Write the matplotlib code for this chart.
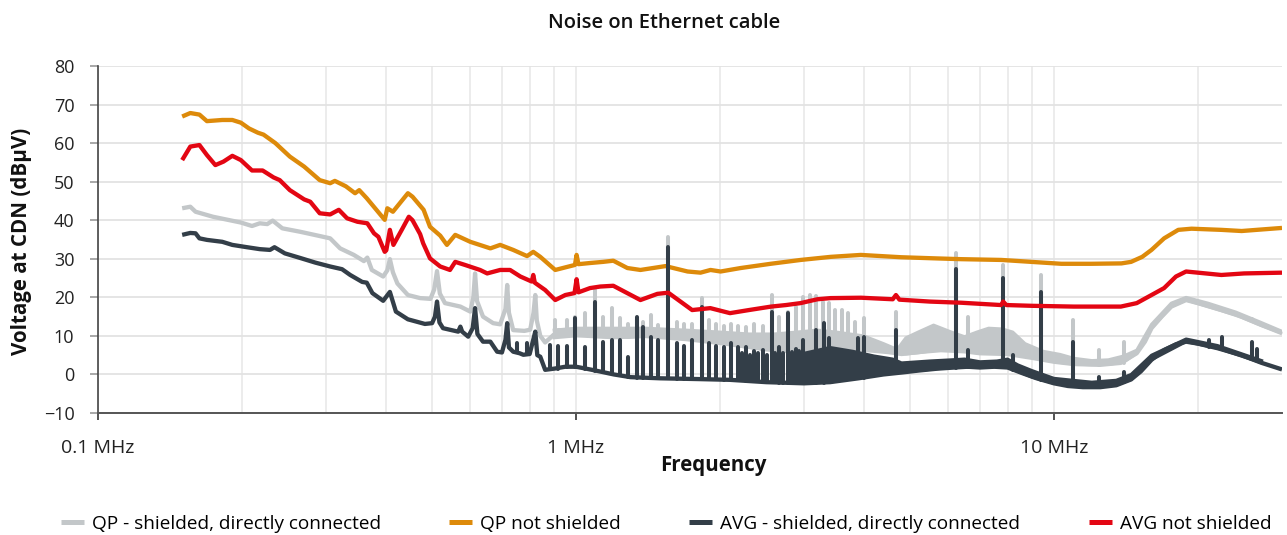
import numpy as np
import matplotlib.pyplot as plt
from matplotlib.lines import Line2D
from matplotlib.ticker import FixedLocator, NullFormatter

plt.rcParams['font.family'] = ['Open Sans', 'DejaVu Sans']

GRAY = '#c3c7c9'
ORANGE = '#dd8a0a'
DARK = '#333e48'
RED = '#e30613'

# --- QP - shielded, directly connected (frequency in MHz, level in dBuV) ---
qp_sh_f = [0.150, 0.156, 0.160, 0.174, 0.199, 0.210, 0.218, 0.226, 0.232, 0.243, 0.265, 0.291, 0.306, 0.321,
           0.343, 0.360, 0.366, 0.374, 0.395, 0.403, 0.408, 0.414, 0.423, 0.445, 0.472, 0.496, 0.505, 0.512,
           0.519, 0.532, 0.573, 0.601, 0.610, 0.615, 0.621, 0.639, 0.671, 0.694, 0.712, 0.718, 0.724, 0.739,
           0.780, 0.802, 0.815, 0.822, 0.828, 0.842, 0.862, 0.884, 0.920, 1.0, 1.1, 1.3, 1.45, 1.6, 1.85, 2.0,
           2.2, 2.5, 2.8, 3.0, 3.4, 3.9, 4.5, 4.8, 5.2, 5.8, 6.5, 7.0, 8.0, 9.0, 10.0, 11.0, 12.5, 13.8, 14.9,
           15.5, 16.0, 16.8, 17.6, 18.9, 20.0, 22.4, 24.7, 27.2, 30.0]
qp_sh_v = [43.1, 43.5, 42.2, 40.9, 39.4, 38.5, 39.2, 39.0, 39.9, 37.9, 37.0, 35.9, 35.3, 32.7,
           31.0, 29.4, 30.3, 27.1, 25.4, 27.0, 29.9, 26.5, 23.6, 20.6, 19.8, 19.6, 22.0, 26.8,
           21.0, 18.5, 17.6, 16.3, 20.0, 26.2, 19.0, 15.0, 13.3, 13.0, 17.0, 23.2, 16.0, 11.5,
           11.3, 11.6, 16.0, 20.6, 14.0, 10.0, 8.3, 9.5, 11.5, 11.0, 10.0, 9.8, 10.5, 10.5, 9.0, 8.5,
           7.5, 6.5, 6.0, 6.0, 6.5, 6.5, 5.8, 5.3, 5.8, 6.3, 6.0, 5.5, 5.3, 4.3, 3.3, 2.7, 2.5, 3.0, 5.5,
           8.5, 12.0, 15.0, 17.6, 19.3, 18.5, 16.7, 15.0, 12.8, 10.7]
# noise band (lower / upper envelope)
qp_sh_band_f = [0.9, 1.0, 1.2, 1.4, 1.7, 2.0, 2.3, 2.6, 2.9, 3.2, 3.5, 4.0, 4.4, 4.7, 4.9, 5.2, 5.6, 6.1, 6.5,
                6.9, 7.3, 7.8, 8.2, 8.7, 9.5, 10.3, 11.0, 12.0, 13.0, 14.0, 14.9, 16.0, 17.6, 18.9, 21.0,
                24.0, 27.0, 30.0]
qp_sh_band_lo = [9.5, 10.0, 9.5, 9.8, 9.0, 8.0, 7.0, 6.3, 6.0, 6.2, 6.5, 6.5, 6.0, 5.5, 5.3, 5.6, 6.2, 6.5, 6.0,
                 5.6, 5.5, 5.4, 5.3, 4.8, 3.9, 3.1, 2.7, 2.5, 2.6, 3.2, 5.5, 12.0, 17.6, 19.3, 17.6,
                 15.4, 12.8, 10.7]
qp_sh_band_hi = [11.5, 12.0, 12.0, 12.0, 11.5, 11.0, 10.5, 10.5, 11.0, 11.5, 11.0, 10.0, 8.0, 6.5, 9.5, 11.0,
                 12.8, 11.0, 9.8, 11.0, 12.0, 11.8, 11.0, 8.0, 6.0, 5.2, 4.2, 3.6, 3.8, 4.8, 6.3, 13.0, 18.5,
                 20.0, 18.5, 16.2, 13.6, 11.2]
# harmonic peaks
qp_sh_spk_f = [0.905, 0.959, 0.997, 1.046, 1.098, 1.141, 1.191, 1.238, 1.287, 1.344, 1.384, 1.438, 1.488,
               1.561, 1.623, 1.679, 1.753, 1.831, 1.894, 1.959, 2.036, 2.106, 2.178, 2.264, 2.353, 2.458,
               2.567, 2.656, 2.773, 2.882, 2.981, 3.09, 3.176, 3.28, 3.38, 3.49, 3.60, 3.71, 3.84, 4.00,
               4.671, 6.241, 6.612, 7.830, 9.406, 10.98, 12.45, 14.04, 21.06, 25.92]
qp_sh_spk_hi = [14.1, 14.0, 15.0, 16.0, 21.9, 15.0, 17.2, 14.6, 13.0, 14.1, 13.5, 15.3, 12.8,
                35.7, 13.7, 13.0, 13.0, 19.8, 14.1, 13.0, 12.5, 13.0, 12.5, 12.4, 13.0, 12.5,
                20.6, 15.0, 16.3, 17.6, 20.2, 20.6, 20.3, 18.9, 18.5, 16.8, 16.7, 15.9, 13.7, 14.6,
                16.3, 31.4, 15.0, 28.4, 25.8, 14.1, 6.3, 8.5, 18.0, 14.5]
qp_sh_spk_lo = [11, 11, 11, 10.5, 10, 10, 10, 9.8, 9.8, 10, 10.2, 10.5, 10.5,
                10.5, 10.5, 10, 9.5, 9, 8.8, 8.6, 8.5, 8, 7.6, 7.3, 7, 6.7,
                6.5, 6.2, 6, 6, 6, 6, 6.1, 6.2, 6.3, 6.4, 6.5, 6.5, 6.5, 6.5,
                5.5, 6.2, 6, 5.3, 4, 2.7, 2.5, 3, 17.8, 14.0]

# --- QP not shielded ---
qp_ns_f = [0.150, 0.156, 0.163, 0.169, 0.182, 0.191, 0.199, 0.207, 0.216, 0.222, 0.235, 0.252, 0.270, 0.291,
           0.306, 0.313, 0.330, 0.345, 0.352, 0.365, 0.398, 0.403, 0.414, 0.445, 0.455, 0.480, 0.495, 0.520,
           0.537, 0.559, 0.601, 0.662, 0.694, 0.739, 0.790, 0.814, 0.842, 0.905, 0.959, 0.995, 1.003, 1.012,
           1.07, 1.14, 1.197, 1.281, 1.364, 1.539, 1.712, 1.822, 1.912, 2.007, 2.211, 2.555, 2.953, 3.413,
           3.945, 4.345, 4.786, 5.666, 6.393, 7.753, 8.96, 10.36, 11.97, 13.84, 14.5, 15.3, 16.0, 17.0, 18.2,
           19.4, 22.4, 24.7, 27.2, 30.0]
qp_ns_v = [66.9, 67.8, 67.4, 65.7, 66.0, 66.0, 65.3, 63.8, 62.7, 62.2, 60.0, 56.5, 53.9, 50.4,
           49.6, 50.2, 48.8, 47.0, 47.8, 45.7, 40.1, 43.1, 42.2, 47.0, 46.1, 42.7, 38.3, 36.0,
           33.6, 36.2, 34.4, 32.7, 33.6, 32.3, 30.7, 31.8, 30.5, 27.1, 27.9, 28.4, 31.0, 28.6,
           28.9, 29.2, 29.5, 27.6, 27.1, 28.1, 26.7, 26.4, 27.1, 26.7, 27.6, 28.7, 29.7, 30.5,
           31.0, 30.7, 30.4, 30.1, 29.9, 29.7, 29.2, 28.7, 28.7, 28.8, 29.2, 30.5, 32.3, 35.3, 37.5,
           37.8, 37.5, 37.2, 37.6, 38.0]

# --- AVG - shielded, directly connected ---
avg_sh_f = [0.150, 0.156, 0.160, 0.163, 0.169, 0.182, 0.191, 0.205, 0.218, 0.229, 0.234, 0.246, 0.265, 0.285,
            0.306, 0.324, 0.337, 0.357, 0.365, 0.375, 0.395, 0.408, 0.420, 0.445, 0.483, 0.500, 0.507, 0.512,
            0.518, 0.527, 0.567, 0.573, 0.578, 0.595, 0.608, 0.615, 0.622, 0.639, 0.662, 0.684, 0.700, 0.712,
            0.718, 0.724, 0.739, 0.762, 0.776, 0.800, 0.814, 0.822, 0.830, 0.842, 0.862, 0.90, 0.95, 1.0,
            1.05, 1.1, 1.2, 1.3, 1.5, 1.8, 2.1, 2.5, 3.0, 3.4, 3.9, 4.4, 4.8, 5.2, 5.7, 6.2, 6.6, 7.0, 7.5,
            8.0, 8.6, 9.2, 10.0, 10.7, 11.5, 12.5, 13.5, 14.5, 15.2, 16.0, 17.0, 18.0, 18.9, 20.0, 22.0,
            24.7, 27.2, 30.0]
avg_sh_v = [36.2, 36.7, 36.6, 35.3, 34.9, 34.4, 33.6, 33.0, 32.5, 32.3, 33.0, 31.4, 30.2, 29.0,
            28.0, 27.3, 25.8, 24.0, 23.8, 21.1, 19.1, 21.4, 16.3, 14.3, 13.1, 13.3, 15.0, 18.9,
            13.5, 12.0, 11.1, 12.4, 11.1, 9.8, 12.0, 17.2, 10.5, 8.5, 8.5, 5.9, 5.7, 9.0,
            13.3, 7.0, 5.9, 5.5, 5.1, 5.3, 9.0, 11.1, 5.0, 4.6, 1.2, 1.5, 2.0, 2.0,
            1.5, 1.0, 0.0, -0.7, -1.0, -1.2, -1.4, -2.0, -2.3, -2.0, -1.0, 0.0, 0.5, 1.0, 1.5, 1.8, 2.0, 1.8, 2.0,
            1.8, 0.3, -1.0, -2.3, -3.0, -3.3, -3.3, -2.8, -1.3, 0.8, 3.8, 6.3, 7.8, 8.5, 8.0, 6.8,
            5.0, 3.0, 1.3]
avg_sh_band_f = [2.9, 3.0, 3.4, 3.8, 4.2, 4.6, 4.8, 5.5, 6.1, 6.5, 7.0, 7.6, 8.0, 8.4, 9.0, 10.0, 12.0,
                 13.5, 14.5, 16.0, 18.9, 22.0, 27.2]
avg_sh_band_lo = [-2.2, -2.3, -2.0, -1.0, 0.0, 0.5, 0.6, 1.3, 1.8, 2.0, 1.8, 2.0, 1.8, 0.8, -0.7, -2.3,
                  -3.3, -2.8, -1.3, 3.8, 8.5, 6.8, 3.0]
avg_sh_band_hi = [3.0, 5.5, 7.0, 6.0, 4.8, 4.0, 3.0, 3.5, 3.8, 4.0, 3.3, 3.5, 4.0, 2.5, 1.0, -1.0,
                  -2.0, -1.5, 0.0, 5.0, 9.2, 7.5, 3.6]
avg_sh_spk_f = [0.7535, 0.7907, 0.884, 0.918, 0.959, 0.997, 1.046, 1.098, 1.141, 1.191, 1.238, 1.287, 1.344,
                1.384, 1.438, 1.488, 1.561, 1.623, 1.679, 1.753, 1.831, 1.894, 1.959, 2.036, 2.106, 2.178,
                2.22, 2.264, 2.31, 2.353, 2.40, 2.458, 2.51, 2.567, 2.61, 2.656, 2.71, 2.773, 2.83, 2.882,
                2.93, 2.981, 3.176, 3.300, 3.380, 3.889, 4.003,
                4.671, 6.241, 6.612, 7.830, 8.217, 9.406, 10.98, 12.45, 14.04, 21.06, 22.42, 25.92, 26.56]
avg_sh_spk_hi = [8.1, 8.1, 7.7, 7.4, 7.5, 14.6, 7.0, 18.9, 8.5, 8.9, 8.9, 4.6, 15.0,
                 12.4, 9.8, 8.9, 33.0, 8.1, 7.5, 8.9, 17.6, 8.1, 7.5, 7.0, 8.1, 7.0,
                 5.5, 7.0, 5.0, 6.0, 5.5, 6.3, 5.0, 16.3, 5.5, 7.0, 5.5, 15.9, 5.8, 6.5,
                 6.0, 8.9, 11.5, 13.3, 9.4, 9.4, 9.7,
                 11.5, 27.3, 6.3, 24.9, 5.0, 21.5, 8.5, -0.6, 0.7, 8.9, 9.8, 8.5, 6.5]
avg_sh_spk_lo = [5.7, 5.2, 1.3, 1.5, 2.0, 2.0, 1.5, 1.0, 0.8, 0.3, -0.1, -0.6, -0.8,
                 -0.9, -1.0, -1.0, -1.0, -1.1, -1.1, -1.2, -1.2, -1.3, -1.3, -1.4, -1.4, -1.5,
                 -1.5, -1.6, -1.6, -1.7, -1.8, -1.9, -1.9, -2.0, -2.0, -2.1, -2.1, -2.2, -2.2, -2.2,
                 -2.3, -2.3, -2.2, -2.1, -2.0, -1.0, -0.8,
                 0.4, 1.8, 2.0, 1.9, 1.2, -1.5, -3.1, -3.3, -2.0, 7.2, 6.7, 4.0, 3.7]

# --- AVG not shielded ---
avg_ns_f = [0.150, 0.156, 0.163, 0.169, 0.176, 0.183, 0.191, 0.199, 0.210, 0.221, 0.233, 0.240, 0.252, 0.270,
            0.278, 0.291, 0.306, 0.319, 0.332, 0.349, 0.366, 0.378, 0.386, 0.398, 0.401, 0.408, 0.415, 0.432,
            0.447, 0.455, 0.472, 0.479, 0.495, 0.520, 0.545, 0.559, 0.586, 0.630, 0.652, 0.694, 0.728, 0.765,
            0.808, 0.814, 0.820, 0.862, 0.905, 0.950, 0.993, 1.003, 1.012, 1.07, 1.124, 1.197, 1.364, 1.48,
            1.56, 1.75, 1.91, 2.1, 2.3, 2.56, 2.75, 2.95, 3.2, 3.41, 3.95, 4.6, 4.671, 4.75, 5.5, 6.4, 7.04,
            7.75, 7.83, 7.95, 9.0, 11.0, 13.8, 14.9, 16.0, 17.0, 18.0, 18.9, 20.0, 22.4, 25.0, 30.0]
avg_ns_v = [55.6, 59.1, 59.5, 56.9, 54.3, 55.2, 56.7, 55.6, 52.9, 52.9, 51.1, 50.4, 47.8, 45.4,
            44.8, 41.8, 41.5, 42.7, 40.5, 39.6, 39.2, 36.6, 35.7, 31.8, 32.2, 37.5, 33.6, 37.5,
            40.9, 40.0, 36.4, 34.0, 30.1, 28.0, 27.1, 29.2, 28.4, 27.1, 26.2, 27.1, 27.1, 25.4,
            24.1, 25.8, 23.8, 21.9, 19.3, 20.6, 21.1, 24.7, 21.3, 22.4, 22.8, 23.0, 19.3, 20.9,
            21.2, 16.7, 17.2, 15.9, 16.7, 17.6, 18.0, 18.5, 19.5, 19.8, 19.9, 19.5, 20.6, 19.4, 18.9, 18.6, 18.3,
            18.0, 18.9, 18.0, 17.8, 17.6, 17.6, 18.5, 20.6, 22.4, 25.4, 26.7, 26.4, 25.8, 26.2, 26.4]

LW = 3.1

fig = plt.figure(figsize=(12.87, 5.35), dpi=100)
ax = fig.add_axes([98 / 1287, 1 - 413 / 535, (1282 - 98) / 1287, (413 - 66) / 535])


def draw_band(f, lo, hi, color, z):
    ax.fill_between(f, lo, hi, color=color, lw=0, zorder=z)
    ax.plot(f, lo, color=color, lw=LW * 0.7, solid_joinstyle='round', zorder=z)
    ax.plot(f, hi, color=color, lw=LW * 0.7, solid_joinstyle='round', zorder=z)


def draw_spikes(f, lo, hi, color, z):
    ax.vlines(f, lo, hi, colors=color, lw=2.9, capstyle='round', zorder=z)


# QP shielded
draw_band(qp_sh_band_f, qp_sh_band_lo, qp_sh_band_hi, GRAY, 2)
ax.plot(qp_sh_f, qp_sh_v, color=GRAY, lw=LW, solid_joinstyle='round', solid_capstyle='butt', zorder=2)
draw_spikes(qp_sh_spk_f, qp_sh_spk_lo, qp_sh_spk_hi, GRAY, 2)

# QP not shielded
ax.plot(qp_ns_f, qp_ns_v, color=ORANGE, lw=LW, solid_joinstyle='round', solid_capstyle='butt', zorder=3)

# AVG shielded
draw_band(avg_sh_band_f, avg_sh_band_lo, avg_sh_band_hi, DARK, 4)
ax.plot(avg_sh_f, avg_sh_v, color=DARK, lw=LW, solid_joinstyle='round', solid_capstyle='butt', zorder=4)
draw_spikes(avg_sh_spk_f, avg_sh_spk_lo, avg_sh_spk_hi, DARK, 4)

# AVG not shielded
ax.plot(avg_ns_f, avg_ns_v, color=RED, lw=LW, solid_joinstyle='round', solid_capstyle='butt', zorder=5)

# axes
ax.set_xscale('log')
ax.set_xlim(0.1, 30)
ax.set_ylim(-10, 80)
ax.set_yticks(range(-10, 81, 10))
ax.set_xticks([0.1, 1, 10])
ax.set_xticklabels(['0.1 MHz', '1 MHz', '10 MHz'])
ax.xaxis.set_minor_locator(FixedLocator([0.2, 0.3, 0.4, 0.5, 0.6, 0.7, 0.8, 0.9,
                                         2, 3, 4, 5, 6, 7, 8, 9, 20]))
ax.xaxis.set_minor_formatter(NullFormatter())
ax.grid(which='both', axis='x', color='#ebebeb', lw=1.3, zorder=0)
ax.grid(which='major', axis='y', color='#e3e3e3', lw=1.3, zorder=0)
ax.set_axisbelow(True)

for s in ['top', 'right']:
    ax.spines[s].set_visible(False)
ax.spines['left'].set_color('#444444')
ax.spines['bottom'].set_color('#555555')
ax.spines['left'].set_linewidth(1.2)
ax.spines['bottom'].set_linewidth(1.4)

ax.tick_params(axis='x', which='major', length=5, width=1.2, color='#333333', pad=14,
               labelsize=14, labelcolor='#222222')
ax.tick_params(axis='x', which='minor', length=0)
ax.tick_params(axis='y', length=6, width=1.2, color='#999999', pad=11, labelsize=13,
               labelcolor='#222222')

fig.text(22 / 1287, 1 - 241 / 535, 'Voltage at CDN (dBµV)', rotation=90, ha='center', va='center',
         fontsize=14.8, fontweight='bold', color='#111111')
fig.text(713 / 1287, 1 - 466 / 535, 'Frequency', ha='center', va='center',
         fontsize=14.8, fontweight='bold', color='#111111')
fig.text(664 / 1287, 1 - 23 / 535, 'Noise on Ethernet cable', ha='center', va='center',
         fontsize=14.5, fontweight='semibold', color='#111111')

handles = [Line2D([], [], color=c, lw=3.6, solid_capstyle='butt') for c in [GRAY, ORANGE, DARK, RED]]
labels = ['QP - shielded, directly connected', 'QP not shielded',
          'AVG - shielded, directly connected', 'AVG not shielded']
fig.legend(handles, labels, loc='center', bbox_to_anchor=(666 / 1287, 1 - 524 / 535), ncol=4,
           frameon=False, fontsize=13.7, handlelength=1.2, handletextpad=0.42, columnspacing=3.6,
           borderpad=0, borderaxespad=0)

fig.savefig('out.png', dpi=100)
